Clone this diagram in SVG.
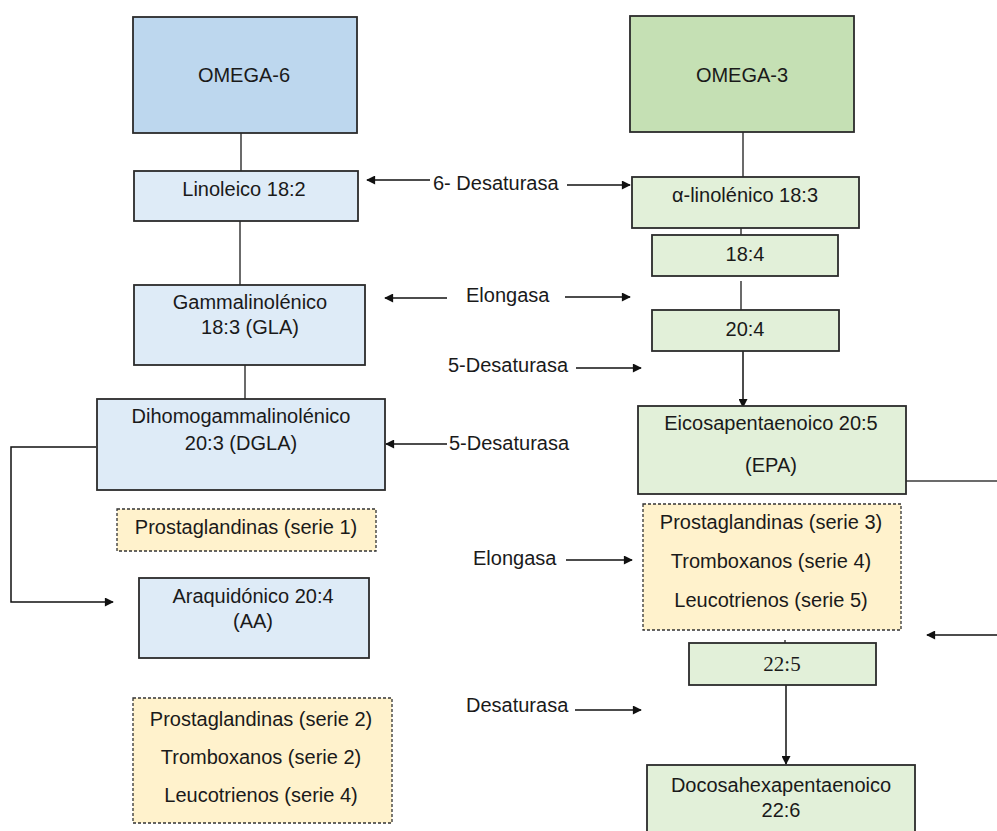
<svg xmlns="http://www.w3.org/2000/svg" width="997" height="831" viewBox="0 0 997 831">
<defs>
<marker id="ah" viewBox="0 0 10 10" refX="9" refY="5" markerWidth="10" markerHeight="9" markerUnits="userSpaceOnUse" orient="auto">
<path d="M0,0 L10,5 L0,10 z" fill="#111"/>
</marker>
<style>
text{font-family:"Liberation Sans",Arial,sans-serif;font-size:20px;fill:#1a1a1a}
.c{text-anchor:middle}
.serif{font-family:"Liberation Serif","Times New Roman",serif;font-size:21px}
.box{stroke:#2b2b2b;stroke-width:1.8}
.o6{fill:#BDD7EE}
.b6{fill:#DEEBF7}
.o3{fill:#C5E0B4}
.g3{fill:#E2F0D9}
.y{fill:#FFF2CC;stroke:#333;stroke-width:1.3;stroke-dasharray:3,2}
.ln{fill:none;stroke:#3a3a3a;stroke-width:1.5}
.ar{fill:none;stroke:#111;stroke-width:1.5;marker-end:url(#ah)}
</style>
</defs>
<rect width="997" height="831" fill="#fff"/>

<g id="connectors">
<line class="ln" x1="241" y1="133" x2="241" y2="171"/>
<line class="ln" x1="240" y1="221" x2="240" y2="285"/>
<line class="ln" x1="245" y1="365" x2="245" y2="399"/>
<polyline class="ar" points="96,447 11,447 11,602 113,602"/>
<line class="ln" x1="743" y1="132" x2="743" y2="177"/>
<line class="ln" x1="741" y1="228" x2="741" y2="235"/>
<line class="ln" x1="741" y1="281" x2="741" y2="310"/>
<line class="ar" x1="743" y1="351" x2="743" y2="407"/>
<line class="ln" x1="906" y1="481" x2="997" y2="481"/>
<line class="ar" x1="997" y1="635" x2="927" y2="635"/>
<line class="ln" x1="785" y1="640" x2="785" y2="643"/>
<line class="ar" x1="786" y1="685" x2="786" y2="764"/>
<line class="ar" x1="430" y1="180" x2="367" y2="180"/>
<line class="ar" x1="567" y1="185" x2="630" y2="185"/>
<line class="ar" x1="447" y1="298" x2="385" y2="298"/>
<line class="ar" x1="565" y1="297" x2="630" y2="297"/>
<line class="ar" x1="576" y1="368" x2="641" y2="368"/>
<line class="ar" x1="447" y1="444" x2="386" y2="444"/>
<line class="ar" x1="566" y1="560" x2="632" y2="560"/>
<line class="ar" x1="575" y1="710" x2="641" y2="710"/>
</g>

<g id="labels">
<text x="433" y="190">6- Desaturasa</text>
<text x="466" y="302">Elongasa</text>
<text x="448" y="372">5-Desaturasa</text>
<text x="449" y="450">5-Desaturasa</text>
<text x="473" y="565">Elongasa</text>
<text x="466" y="712">Desaturasa</text>
</g>

<g id="omega6">
<rect class="box o6" x="133" y="17" width="224" height="116"/>
<text class="c" x="244" y="82">OMEGA-6</text>
</g>
<g id="linoleico">
<rect class="box b6" x="134" y="171" width="224" height="50"/>
<text class="c" x="244" y="196">Linoleico 18:2</text>
</g>
<g id="gla">
<rect class="box b6" x="134" y="285" width="231" height="80"/>
<text class="c" x="250" y="309">Gammalinolénico</text>
<text class="c" x="250" y="334">18:3 (GLA)</text>
</g>
<g id="dgla">
<rect class="box b6" x="97" y="399" width="288" height="91"/>
<text class="c" x="241" y="423">Dihomogammalinolénico</text>
<text class="c" x="241" y="450">20:3 (DGLA)</text>
</g>
<g id="prost1">
<rect class="y" x="117" y="509" width="259" height="42"/>
<text class="c" x="246" y="534">Prostaglandinas (serie 1)</text>
</g>
<g id="aa">
<rect class="box b6" x="139" y="578" width="230" height="80"/>
<text class="c" x="253" y="603">Araquidónico 20:4</text>
<text class="c" x="253" y="628">(AA)</text>
</g>
<g id="prost2">
<rect class="y" x="133" y="698" width="259" height="125"/>
<text class="c" x="261" y="726">Prostaglandinas (serie 2)</text>
<text class="c" x="261" y="764">Tromboxanos (serie 2)</text>
<text class="c" x="261" y="802">Leucotrienos (serie 4)</text>
</g>

<g id="omega3">
<rect class="box o3" x="630" y="16" width="224" height="116"/>
<text class="c" x="742" y="82">OMEGA-3</text>
</g>
<g id="ala">
<rect class="box g3" x="632" y="177" width="227" height="51"/>
<text class="c" x="745" y="202">α-linolénico 18:3</text>
</g>
<g id="n184">
<rect class="box g3" x="652" y="235" width="186" height="41"/>
<text class="c" x="745" y="261">18:4</text>
</g>
<g id="n204">
<rect class="box g3" x="652" y="310" width="187" height="41"/>
<text class="c" x="745" y="336">20:4</text>
</g>
<g id="epa">
<rect class="box g3" x="638" y="406" width="268" height="88"/>
<text class="c" x="771" y="430">Eicosapentaenoico 20:5</text>
<text class="c" x="771" y="472">(EPA)</text>
</g>
<g id="prost3">
<rect class="y" x="643" y="504" width="258" height="126"/>
<text class="c" x="771" y="529">Prostaglandinas (serie 3)</text>
<text class="c" x="771" y="568">Tromboxanos (serie 4)</text>
<text class="c" x="771" y="607">Leucotrienos (serie 5)</text>
</g>
<g id="n225">
<rect class="box g3" x="689" y="643" width="187" height="42"/>
<text class="c serif" x="782" y="671">22:5</text>
</g>
<g id="dha">
<rect class="box g3" x="647" y="765" width="268" height="80"/>
<text class="c" x="781" y="792">Docosahexapentaenoico</text>
<text class="c" x="781" y="817">22:6</text>
</g>
</svg>
